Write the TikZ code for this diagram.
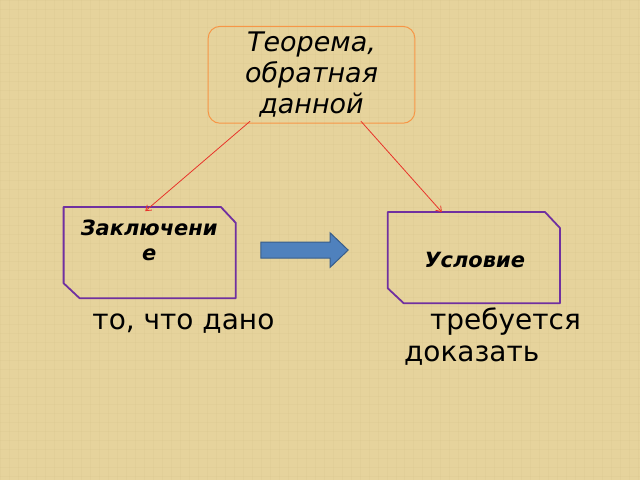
\documentclass[tikz,border=0pt]{standalone}
\usepackage{fontspec}
\setmainfont{DejaVu Sans}
\usetikzlibrary{calc,arrows.meta}
\definecolor{parch}{HTML}{E6D39C}
\definecolor{parchdark}{HTML}{CDB77E}
\definecolor{boxorange}{HTML}{F79646}
\definecolor{boxpurple}{HTML}{7030A0}
\definecolor{arrowblue}{HTML}{4F81BD}
\definecolor{arrowedge}{HTML}{385D8A}
\definecolor{linkred}{HTML}{E8332A}
\tikzset{
  frame/.style={draw=none, inner sep=0pt, minimum width=172pt, minimum height=91pt},
  snipline/.style={draw=boxpurple, line width=1.8pt, line join=round},
  boxtext/.style={font=\bfseries\itshape\fontsize{21}{25}\selectfont, align=center, inner sep=0pt},
  plaintext/.style={font=\fontsize{28}{32}\selectfont, anchor=base west, inner sep=0pt},
  link/.style={draw=linkred, line width=0.8pt, -{Straight Barb[length=5pt,width=7pt]}}
}
\begin{document}
\begin{tikzpicture}[x=1pt,y=-1pt]
\fill[parch] (0,0) rectangle (640,480);
\foreach \i in {0,9,...,640} {\draw[parchdark, opacity=0.12, line width=0.8pt] (\i,0) -- (\i,480);}
\foreach \j in {0,9,...,480} {\draw[parchdark, opacity=0.12, line width=0.8pt] (0,\j) -- (640,\j);}
\useasboundingbox (0,0) rectangle (640,480);
\node[draw=boxorange, line width=1pt, rounded corners=12pt, minimum width=207pt, minimum height=97pt, inner sep=0pt,
  align=center, font=\itshape\fontsize{27}{31}\selectfont] (top) at (311.5,74.5) {Теорема,\\обратная\\данной};
% left box
\node[frame] (left) at (149.5,252.5) {};
\draw[snipline] ($(left.north west)$) -- ($(left.north east)+(-15,0)$) -- ($(left.north east)+(0,16)$)
  -- (left.south east) -- ($(left.south west)+(16,0)$) -- ($(left.south west)+(0,-15)$) -- cycle;
\node[boxtext, anchor=base] (lefttxt) at (149,235) {Заключени};
\node[boxtext, anchor=base] (lefttxt2) at (149,260) {е};
% right box
\node[frame] (right) at (474,257.5) {};
\draw[snipline] ($(right.north west)$) -- ($(right.north east)+(-15,0)$) -- ($(right.north east)+(0,16)$)
  -- (right.south east) -- ($(right.south west)+(16,0)$) -- ($(right.south west)+(0,-15)$) -- cycle;
\node[boxtext, anchor=base] (righttxt) at (475,267) {Условие};
% block arrow
\node[draw=none, inner sep=0pt, minimum width=87pt, minimum height=34pt] (blue) at (304.5,250) {};
\draw[draw=arrowedge, fill=arrowblue, line width=1pt, line join=miter]
  ($(blue.west)+(0,-8)$) -- ($(blue.east)+(-18,-8)$) -- ($(blue.north east)+(-18,0)$) -- (blue.east)
  -- ($(blue.south east)+(-18,0)$) -- ($(blue.east)+(-18,8)$) -- ($(blue.west)+(0,8)$) -- cycle;
\coordinate (lt) at (250,121);
\coordinate (rt) at (361,121);
\coordinate (lend) at (145,211);
\coordinate (rend) at (442,212);
\draw[link] (lt) -- (lend);
\draw[link] (rt) -- (rend);
\node[plaintext] (dano) at (92,330) {то, что дано};
\node[plaintext] (treb) at (430,330) {требуется};
\node[plaintext] (dokaz) at (404,362) {доказать};
\end{tikzpicture}
\end{document}
